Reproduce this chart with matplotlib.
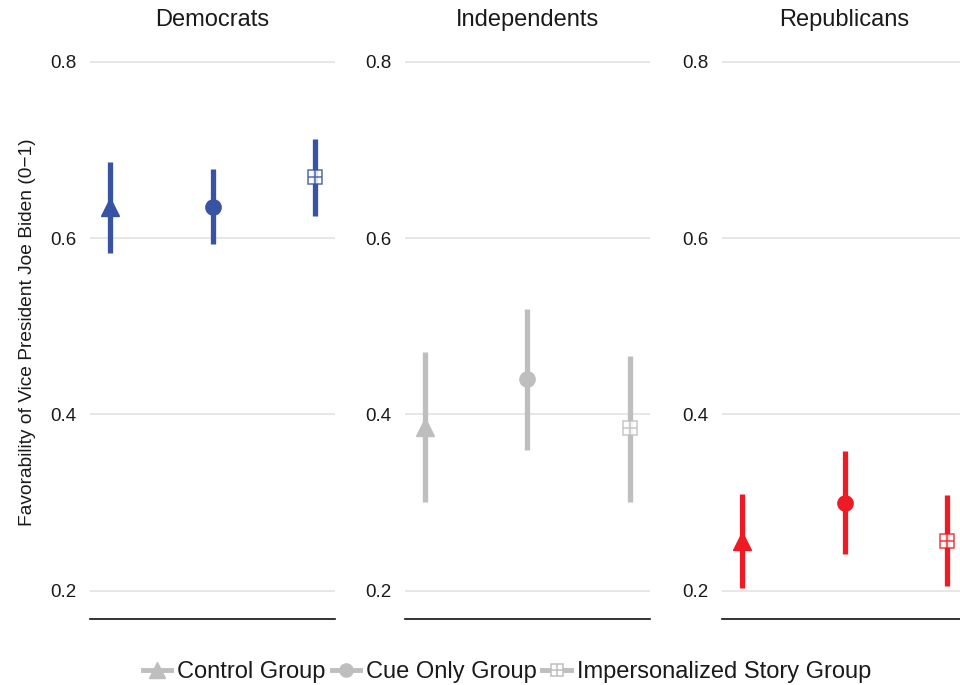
import numpy as np
import matplotlib
matplotlib.use("Agg")
import matplotlib.pyplot as plt
from matplotlib.lines import Line2D
from matplotlib.legend_handler import HandlerTuple

plt.rcParams["font.family"] = ["Liberation Sans", "DejaVu Sans"]

# ===============================
# Data
# ===============================
parties = ["Democrats", "Independents", "Republicans"]
groups = ["Control Group", "Cue Only Group", "Impersonalized Story Group"]
party_colors = ["#3953A4", "#BEBEBE", "#ED1C24"]

# point estimates per party, order: control, cue, impersonalized
means = {
    "Democrats": [0.635, 0.635, 0.669],
    "Independents": [0.386, 0.440, 0.385],
    "Republicans": [0.256, 0.300, 0.257],
}
lower = {
    "Democrats": [0.583, 0.593, 0.625],
    "Independents": [0.301, 0.360, 0.301],
    "Republicans": [0.203, 0.242, 0.205],
}
upper = {
    "Democrats": [0.686, 0.678, 0.712],
    "Independents": [0.471, 0.520, 0.466],
    "Republicans": [0.310, 0.359, 0.309],
}
y_ticks = [0.2, 0.4, 0.6, 0.8]

markers = ["^", "o", "s"]
msizes = [13, 11, 10]

fig = plt.figure(figsize=(9.6, 6.85), dpi=100)

panel_left = [90 / 960, 405 / 960, 722 / 960]
panel_w = 245 / 960
bottom = 1 - 619 / 685
height = (619 - 45) / 685

text_col = "#1a1a1a"

for p, party in enumerate(parties):
    ax = fig.add_axes([panel_left[p], bottom, panel_w, height])
    col = party_colors[p]
    xs = np.arange(1, 4)
    for i in range(3):
        m = means[party][i]
        ax.vlines(xs[i], lower[party][i], upper[party][i], color=col, lw=3.8, zorder=3)
        if i < 2:
            ax.plot(xs[i], m, marker=markers[i], ms=msizes[i], color=col, mec=col, zorder=4)
        else:
            ax.plot(xs[i], m, marker="s", ms=msizes[i], mfc="white", mec=col,
                    mew=1.1, zorder=4, alpha=0.85)
            ax.plot(xs[i], m, marker="+", ms=msizes[i], mec=col, mew=1.1, zorder=5, alpha=0.85)
    ax.set_xlim(0.8, 3.2)
    ax.set_ylim(0.168, 0.819)
    ax.set_yticks(y_ticks)
    ax.set_yticklabels([f"{v:.1f}" for v in y_ticks])
    ax.grid(axis="y", color="#E3E3E3", lw=1.2)
    ax.set_axisbelow(True)
    ax.set_xticks([])
    for s in ["top", "right", "left"]:
        ax.spines[s].set_visible(False)
    ax.spines["bottom"].set_color("#111111")
    ax.spines["bottom"].set_linewidth(1.2)
    ax.tick_params(axis="y", length=0, pad=10, labelsize=13.5, labelcolor=text_col)
    ax.text(0.5, 1.044, party, transform=ax.transAxes, ha="center", va="center",
            fontsize=17, color=text_col)
    if p == 0:
        ax.set_ylabel("Favorability of Vice President Joe Biden (0\u22121)",
                      fontsize=13.8, color=text_col, labelpad=10)

# Legend
gray = "#BEBEBE"
h_ctrl = Line2D([0], [0], color=gray, lw=3.5, marker="^", ms=11, mec=gray)
h_cue = Line2D([0], [0], color=gray, lw=3.5, marker="o", ms=9.5, mec=gray)
h_sq = Line2D([0], [0], color=gray, lw=3.5, marker="s", ms=9, mfc="white", mec=gray, mew=1.1)
h_plus = Line2D([0], [0], lw=0, marker="+", ms=9, mec=gray, mew=1.1)
leg = fig.legend([h_ctrl, h_cue, (h_sq, h_plus)], groups, loc="center",
                 bbox_to_anchor=(507 / 960, 1 - 672 / 685),
                 handler_map={tuple: HandlerTuple(ndivide=1, pad=0)},
                 ncol=3, frameon=False, fontsize=17, handlelength=1.2, handletextpad=0.25,
                 columnspacing=0.25)
for t in leg.get_texts():
    t.set_color(text_col)

fig.savefig("out.png", dpi=100)
